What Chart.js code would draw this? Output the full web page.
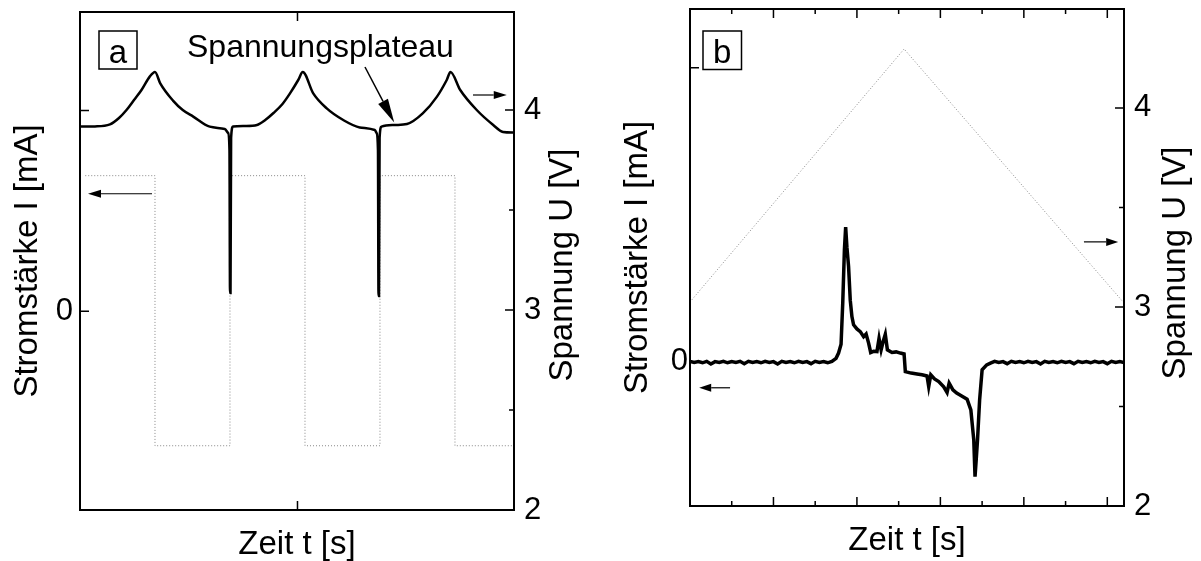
<!DOCTYPE html>
<html>
<head>
<meta charset="utf-8">
<script src="https://cdn.jsdelivr.net/npm/chart.js@4.4.1/dist/chart.umd.min.js"></script>
<style>
  body { margin: 0; background: #fff; }
  #wrap { position: relative; width: 1201px; height: 561px; }
  canvas { position: absolute; top: 0; }
  #chartA { left: 0; }
  #chartB { left: 600px; }
</style>
</head>
<body>
<div id="wrap">
  <canvas id="chartA" width="600" height="561"></canvas>
  <canvas id="chartB" width="601" height="561"></canvas>
</div>
<script>
// ---- panel a: voltage (solid) and square-wave current (dotted)
const aTimeU = [0, 0.2, 0.4, 0.52, 0.62, 0.72, 0.82, 0.93, 1.0, 1.07, 1.24, 1.37, 1.51, 1.73, 1.93, 1.975, 1.993, 2.0, 2.007, 2.015, 2.04,
                2.2, 2.36, 2.47, 2.58, 2.7, 2.8, 2.91, 2.97, 3.11, 3.29, 3.51, 3.73, 3.93, 3.955, 3.973, 3.98, 3.987, 3.995, 4.02,
                4.2, 4.36, 4.57, 4.76, 4.89, 4.94, 5.07, 5.29, 5.51, 5.64, 5.79];
const aVolt  = [3.917, 3.918, 3.928, 3.96, 4.0, 4.05, 4.1, 4.167, 4.19, 4.133, 4.047, 4.0, 3.967, 3.917, 3.905, 3.885, 3.8, 3.085, 3.085, 3.86, 3.917,
                3.92, 3.925, 3.95, 3.985, 4.03, 4.083, 4.15, 4.19, 4.083, 4.008, 3.95, 3.913, 3.9, 3.885, 3.8, 3.07, 3.07, 3.86, 3.917,
                3.925, 3.93, 3.983, 4.067, 4.15, 4.19, 4.1, 4.0, 3.925, 3.89, 3.887];
const aTimeI = [0.07, 1, 2, 3, 4, 5, 5.79];
const aCurrent = [0.675, -0.67, 0.675, -0.67, 0.675, -0.67, -0.67];

const aTimeTicks = [2.9];
const aCurrentTicks = [0, 1];
const aCurrentLabels = ['0', ''];
const aVoltTicks = [2, 2.5, 3, 3.5, 4];
const aVoltLabels = ['2', '', '3', '', '4'];

// ---- panel b: triangular voltage sweep (dotted) and current response (solid)
const bTimeU = [0, 5.13, 10.4];
const bVolt = [3.025, 4.296, 3.02];

const bTimeStart = [0, 0.1, 0.2, 0.3, 0.4, 0.5, 0.6, 0.7, 0.8, 0.9, 1.0, 1.1, 1.2, 1.3, 1.4, 1.5, 1.6, 1.7,
                    1.8, 1.9, 2.0, 2.1, 2.2, 2.3, 2.4, 2.5, 2.6, 2.7, 2.8, 2.9, 3.0, 3.1, 3.2, 3.3, 3.4];
const bCurrentStart = [0.002, -0.002, 0.001, -0.003, 0.002, -0.007, 0.001, -0.002, 0.002, -0.003, 0.001, -0.002,
                       0.002, -0.006, 0.002, -0.002, 0.001, -0.003, 0.002, -0.002, 0.001, -0.007, 0.002, -0.002,
                       0.001, -0.003, 0.002, -0.002, 0.001, -0.006, 0.002, -0.002, 0.001, -0.003, 0.002];
const bTimeEvent = [3.5, 3.56, 3.62, 3.66, 3.7, 3.73, 3.76, 3.8, 3.84, 3.88, 3.92, 4.0, 4.08, 4.16, 4.22, 4.28, 4.33,
                    4.4, 4.48, 4.53, 4.58, 4.63, 4.68, 4.73, 4.84, 4.94, 5.04, 5.13, 5.16, 5.3, 5.44, 5.56, 5.68,
                    5.72, 5.77, 5.86, 5.96, 6.08, 6.16, 6.21, 6.3, 6.39, 6.5, 6.64, 6.73, 6.8, 6.83, 6.86, 6.89,
                    6.94, 7.0, 7.11, 7.2];
const bCurrentEvent = [0.012, 0.03, 0.06, 0.2, 0.38, 0.458, 0.39, 0.324, 0.21, 0.154, 0.126, 0.112, 0.103, 0.086, 0.095,
                       0.064, 0.032, 0.036, 0.035, 0.08, 0.041, 0.07, 0.094, 0.041, 0.032, 0.034, 0.03, 0.027, -0.033,
                       -0.038, -0.041, -0.044, -0.048, -0.084, -0.044, -0.058, -0.067, -0.085, -0.104, -0.072, -0.095,
                       -0.106, -0.115, -0.127, -0.163, -0.265, -0.39, -0.33, -0.265, -0.13, -0.027, -0.01, -0.004];
const bTimeEnd = [7.3, 7.4, 7.5, 7.6, 7.7, 7.8, 7.9, 8.0, 8.1, 8.2, 8.3, 8.4, 8.5, 8.6, 8.7, 8.8, 8.9, 9.0,
                  9.1, 9.2, 9.3, 9.4, 9.5, 9.6, 9.7, 9.8, 9.9, 10.0, 10.1, 10.2, 10.3, 10.4];
const bCurrentEnd = [0.002, -0.002, 0.001, -0.006, 0.002, -0.002, 0.001, -0.003, 0.002, -0.002, 0.001, -0.007,
                     0.002, -0.002, 0.001, -0.003, 0.002, -0.002, 0.001, -0.006, 0.002, -0.002, 0.001, -0.003,
                     0.002, -0.002, 0.001, -0.006, 0.002, -0.002, 0.001, -0.002];

const bTimeTicks = [1, 2, 3, 4, 5, 6, 7, 8, 9, 10];
const bTimeMajor = [2, 4, 6, 8, 10];
const bCurrentTicks = [0, 1];
const bCurrentLabels = ['0', ''];
const bVoltTicks = [2, 2.5, 3, 3.5, 4];
const bVoltLabels = ['2', '', '3', '', '4'];

Chart.defaults.font.family = '"Liberation Sans", Arial, Helvetica, sans-serif';
Chart.defaults.color = '#000';

const pts = (xs, ys) => xs.map((x, i) => ({ x: x, y: ys[i] }));
const tickList = (values, majors) => values.map(v => ({ value: v, major: majors.includes(v) }));

// frame box + inward tick marks
const frame = {
  id: 'frame',
  afterDraw(chart) {
    const ctx = chart.ctx;
    const { left, right, top, bottom } = chart.chartArea;
    ctx.save();
    ctx.strokeStyle = '#000';
    ctx.lineWidth = 2;
    ctx.strokeRect(left, top, right - left, bottom - top);
    ctx.lineWidth = 1.5;
    ctx.beginPath();
    Object.values(chart.scales).forEach(s => {
      s.ticks.forEach(t => {
        const len = t.major ? 9 : 5;
        const p = s.getPixelForValue(t.value);
        if (s.isHorizontal()) {
          ctx.moveTo(p, bottom); ctx.lineTo(p, bottom - len);
          ctx.moveTo(p, top); ctx.lineTo(p, top + len);
        } else if (s.position === 'left') {
          ctx.moveTo(left, p); ctx.lineTo(left + len, p);
        } else {
          ctx.moveTo(right, p); ctx.lineTo(right - len, p);
        }
      });
    });
    ctx.stroke();
    ctx.restore();
  }
};

function drawArrow(ctx, x1, y1, x2, y2, head, half, width) {
  const ang = Math.atan2(y2 - y1, x2 - x1);
  const bx = x2 - head * Math.cos(ang), by = y2 - head * Math.sin(ang);
  ctx.lineWidth = width;
  ctx.beginPath();
  ctx.moveTo(x1, y1);
  ctx.lineTo(bx, by);
  ctx.stroke();
  ctx.beginPath();
  ctx.moveTo(x2, y2);
  ctx.lineTo(bx + half * Math.sin(ang), by - half * Math.cos(ang));
  ctx.lineTo(bx - half * Math.sin(ang), by + half * Math.cos(ang));
  ctx.closePath();
  ctx.fill();
}

// panel letter, arrows, annotation text and the right axis title
const notes = {
  id: 'notes',
  afterDraw(chart, args, opts) {
    const ctx = chart.ctx;
    const area = chart.chartArea;
    const sx = chart.scales.x;
    ctx.save();
    ctx.fillStyle = '#000';
    ctx.strokeStyle = '#000';

    const b = opts.box;
    ctx.lineWidth = 1.5;
    ctx.strokeRect(area.left + b.dx, area.top + b.dy, b.w, b.h);
    ctx.font = '33px "Liberation Sans", Arial, sans-serif';
    ctx.textAlign = 'center';
    ctx.textBaseline = 'alphabetic';
    ctx.fillText(b.text, area.left + b.dx + b.w / 2, area.top + b.dy + 32);

    opts.arrows.forEach(a => {
      const sy = chart.scales[a.axis];
      drawArrow(ctx, sx.getPixelForValue(a.from[0]), sy.getPixelForValue(a.from[1]),
        sx.getPixelForValue(a.to[0]), sy.getPixelForValue(a.to[1]), a.head, a.half, a.width);
    });

    (opts.texts || []).forEach(t => {
      ctx.font = t.size + 'px "Liberation Sans", Arial, sans-serif';
      ctx.textAlign = 'left';
      ctx.textBaseline = 'alphabetic';
      ctx.fillText(t.text, t.x, t.y);
    });

    const r = opts.rightTitle;
    ctx.translate(area.right + r.dx, r.y);
    ctx.rotate(-Math.PI / 2);
    ctx.font = '33px "Liberation Sans", Arial, sans-serif';
    ctx.textAlign = 'center';
    ctx.textBaseline = 'middle';
    ctx.fillText(r.text, 0, 0);
    ctx.restore();
  }
};

// fixed box sizes so the plot area lands where it is in the figure
const fixBox = (s, size) => {
  if (s.isHorizontal()) s.height = size; else s.width = size;
  s.paddingTop = 0; s.paddingBottom = 0; s.paddingLeft = 0; s.paddingRight = 0;
};

function makeScales(p) {
  return {
    x: {
      type: 'linear', min: 0, max: p.xMax,
      grid: { display: false }, border: { display: false },
      ticks: { display: false },
      afterBuildTicks: s => { s.ticks = tickList(p.xTicks, p.xMajor); },
      afterFit: s => fixBox(s, p.bottomH),
      title: { display: true, text: 'Zeit t [s]', font: { size: 33, lineHeight: 1 }, padding: { top: 0, bottom: p.xTitlePad } }
    },
    yI: {
      type: 'linear', position: 'left', min: p.iMin, max: p.iMax,
      grid: { display: false, drawTicks: false }, border: { display: false },
      ticks: { autoSkip: false, padding: p.iPad, font: { size: 31 }, callback: v => p.iLabels[p.iTicks.indexOf(v)] },
      afterBuildTicks: s => { s.ticks = tickList(p.iTicks, p.iTicks); },
      afterFit: s => fixBox(s, p.leftW),
      title: { display: true, text: 'Stromstärke I [mA]', font: { size: 33, lineHeight: 1 }, padding: { top: p.iTitlePad, bottom: 0 } }
    },
    yU: {
      type: 'linear', position: 'right', min: 2, max: p.uMax,
      grid: { display: false, drawTicks: false }, border: { display: false },
      ticks: { autoSkip: false, padding: 10, font: { size: 31 }, callback: v => p.uLabels[p.uTicks.indexOf(v)] },
      afterBuildTicks: s => { s.ticks = tickList(p.uTicks, [2, 3, 4]); },
      afterFit: s => fixBox(s, p.rightW)
    }
  };
}

new Chart(document.getElementById('chartA'), {
  type: 'line',
  data: {
    datasets: [{
      label: 'U',
      data: pts(aTimeU, aVolt),
      yAxisID: 'yU',
      borderColor: '#000',
      borderWidth: 2.5,
      pointRadius: 0,
      cubicInterpolationMode: 'monotone'
    }, {
      label: 'I',
      data: pts(aTimeI, aCurrent),
      yAxisID: 'yI',
      borderColor: '#888',
      borderWidth: 1,
      borderDash: [1, 2],
      pointRadius: 0,
      stepped: true
    }]
  },
  options: {
    responsive: false,
    animation: false,
    layout: { padding: { top: 12, left: 0, right: 0, bottom: 0 } },
    plugins: {
      legend: { display: false },
      tooltip: { enabled: false },
      notes: {
        box: { dx: 19, dy: 19, w: 38, h: 38, text: 'a' },
        arrows: [
          { axis: 'yI', from: [0.96, 0.585], to: [0.107, 0.585], head: 13, half: 4, width: 1.2 },
          { axis: 'yU', from: [5.24, 4.075], to: [5.69, 4.075], head: 13, half: 4, width: 1.2 },
          { axis: 'yU', from: [3.8, 4.215], to: [4.19, 3.937], head: 24, half: 5.5, width: 1.5 }
        ],
        texts: [{ text: 'Spannungsplateau', x: 187, y: 57, size: 32 }],
        rightTitle: { text: 'Spannung U [V]', dx: 49, y: 265 }
      }
    },
    scales: makeScales({
      xMax: 5.787, xTicks: aTimeTicks, xMajor: aTimeTicks, bottomH: 51, xTitlePad: 0,
      iMin: -0.99, iMax: 1.49, iTicks: aCurrentTicks, iLabels: aCurrentLabels, iPad: 7, leftW: 80, iTitlePad: 11.5,
      uMax: 4.49, uTicks: aVoltTicks, uLabels: aVoltLabels, rightW: 86
    })
  },
  plugins: [frame, notes]
});

new Chart(document.getElementById('chartB'), {
  type: 'line',
  data: {
    datasets: [{
      label: 'I',
      data: pts(bTimeStart.concat(bTimeEvent, bTimeEnd), bCurrentStart.concat(bCurrentEvent, bCurrentEnd)),
      yAxisID: 'yI',
      borderColor: '#000',
      borderWidth: 3.5,
      pointRadius: 0,
      tension: 0
    }, {
      label: 'U',
      data: pts(bTimeU, bVolt),
      yAxisID: 'yU',
      borderColor: '#888',
      borderWidth: 1,
      borderDash: [1, 2],
      pointRadius: 0
    }]
  },
  options: {
    responsive: false,
    animation: false,
    layout: { padding: { top: 9, left: 0, right: 0, bottom: 0 } },
    plugins: {
      legend: { display: false },
      tooltip: { enabled: false },
      notes: {
        box: { dx: 13, dy: 22, w: 38.5, h: 38.5, text: 'b' },
        arrows: [
          { axis: 'yI', from: [0.96, -0.088], to: [0.22, -0.088], head: 12, half: 4, width: 1.2 },
          { axis: 'yU', from: [9.44, 3.327], to: [10.26, 3.327], head: 12, half: 4, width: 1.2 }
        ],
        rightTitle: { text: 'Spannung U [V]', dx: 52, y: 263 }
      }
    },
    scales: makeScales({
      xMax: 10.4, xTicks: bTimeTicks, xMajor: bTimeMajor, bottomH: 55, xTitlePad: 4,
      iMin: -0.49, iMax: 1.2, iTicks: bCurrentTicks, iLabels: bCurrentLabels, iPad: 2, leftW: 90, iTitlePad: 21.5,
      uMax: 4.497, uTicks: bVoltTicks, uLabels: bVoltLabels, rightW: 77
    })
  },
  plugins: [frame, notes]
});
</script>
</body>
</html>
